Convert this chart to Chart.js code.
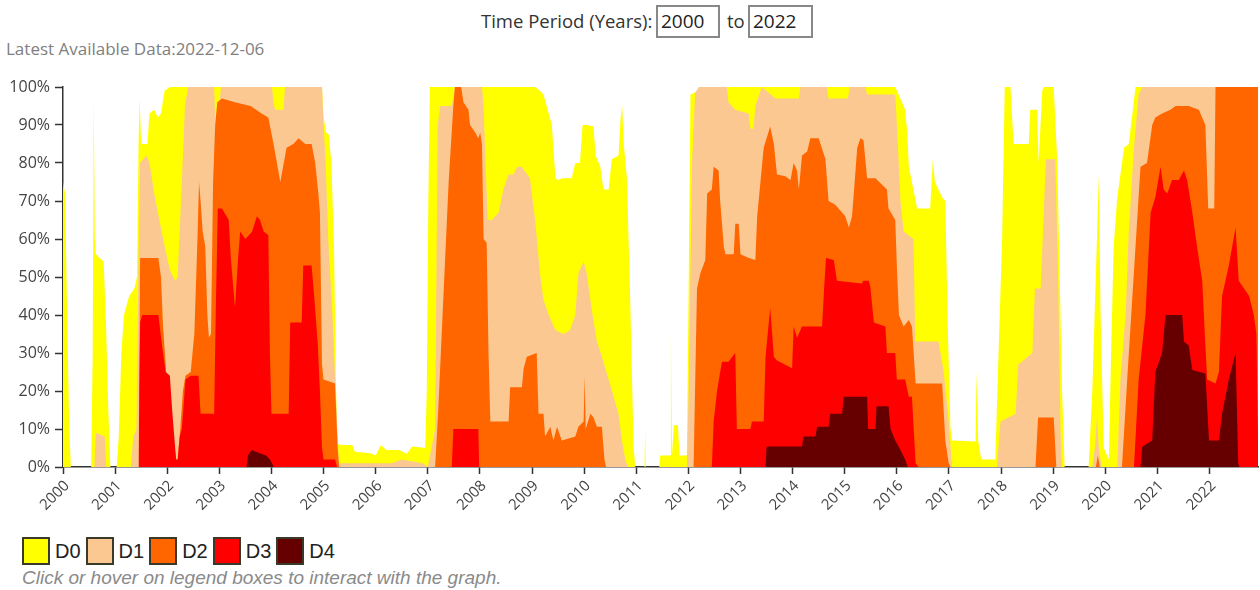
<!DOCTYPE html>
<html>
<head>
<meta charset="utf-8">
<script src="https://cdn.jsdelivr.net/npm/chart.js@4.4.1/dist/chart.umd.min.js"></script>
<style>
html,body{margin:0;padding:0;background:#fff;width:1260px;height:590px;overflow:hidden;font-family:"Open Sans",sans-serif;}
.h{position:absolute;top:5px;height:32px;line-height:32px;font-size:18.5px;color:#333;white-space:nowrap;}
.box{position:absolute;top:5px;box-sizing:border-box;height:33px;border:2px solid #888;font-size:19px;line-height:29px;padding-left:3px;color:#222;}
#latest{position:absolute;left:6px;top:37px;font-size:17px;line-height:23px;color:#808080;white-space:nowrap;}
#wrap{position:absolute;left:0;top:70px;width:1260px;height:450px;}
#legend{position:absolute;left:22px;top:537px;display:flex;align-items:center;font-family:"Liberation Sans",Arial,sans-serif;font-size:20px;color:#222;}
.sw{width:28px;height:28px;box-sizing:border-box;border:2px solid #3a3a2a;margin-right:5px;}
.lt{margin-right:5px;}
#hint{position:absolute;left:22px;top:567px;font-family:"Liberation Sans",Arial,sans-serif;font-style:italic;font-size:19px;color:#8a8a8a;white-space:nowrap;}
</style>
</head>
<body>
<div class="h" style="left:481px">Time Period (Years):</div>
<div class="box" style="left:656px;width:64px">2000</div>
<div class="h" style="left:727px">to</div>
<div class="box" style="left:748px;width:65px">2022</div>
<div id="latest">Latest Available Data:2022-12-06</div>
<div id="wrap"><canvas id="c" width="1260" height="450"></canvas></div>
<div id="legend"></div>
<div id="hint">Click or hover on legend boxes to interact with the graph.</div>
<script>
const yearTicks = [2000,2001,2002,2003,2004,2005,2006,2007,2008,2009,2010,2011,2012,2013,2014,2015,2016,2017,2018,2019,2020,2021,2022];
const pctTicks = [0,10,20,30,40,50,60,70,80,90,100];
const categories = ['D0','D1','D2','D3','D4'];
const colors = ['#FFFF00','#FCC891','#FF6600','#FF0000','#660000'];

const d0Years = [
2000.00,2000.04,2000.08,2000.12,2000.15,2000.54,2000.57,2000.59,2000.61,2000.63,
2000.78,2000.82,2000.87,2000.91,2001.03,2001.07,2001.12,2001.17,2001.27,2001.37,
2001.42,2001.45,2001.47,2001.50,2001.62,2001.66,2001.75,2001.82,2001.88,2001.95,
2002.05,2004.97,2005.00,2005.05,2005.10,2005.15,2005.20,2005.24,2005.27,2005.35,
2005.55,2005.60,2005.90,2006.00,2006.10,2006.20,2006.45,2006.60,2006.70,2006.95,
2006.98,2007.01,2007.04,2009.06,2009.15,2009.22,2009.32,2009.38,2009.45,2009.50,
2009.58,2009.76,2009.83,2009.92,2009.97,2010.06,2010.18,2010.22,2010.31,2010.37,
2010.47,2010.53,2010.66,2010.70,2010.73,2010.76,2010.82,2010.88,2010.95,2010.98,
2011.16,2011.17,2011.18,2011.44,2011.46,2011.65,2011.665,2011.685,2011.72,2011.80,
2011.83,2011.97,2012.00,2012.04,2012.20,2012.25,2015.97,2016.16,2016.20,2016.23,
2016.39,2016.64,2016.69,2016.73,2016.87,2016.93,2016.98,2017.03,2017.06,2017.51,
2017.53,2017.56,2017.62,2017.89,2017.94,2018.02,2018.07,2018.18,2018.24,2018.53,
2018.56,2018.69,2018.72,2018.79,2018.82,2019.01,2019.08,2019.11,2019.17,2019.22,
2019.68,2019.75,2019.84,2019.875,2019.91,2019.97,2020.07,2020.10,2020.16,2020.23,
2020.36,2020.45,2020.52,2020.58,2022.93];
const d0Values = [
75,72,40,10,0,0,30,97,60,56,
54,40,15,0,0,8,30,40,45,47,
50,85,97,85,85,93,94,92,93,99,
100,100,92,88,87.5,80,58,20,6,5.8,
5.8,4,3.6,3,5.8,4.5,4.5,3.5,5.4,5,
20,70,100,100,99,98,93,90,76,75.5,
76,76,80,80,90,90,89.6,82,79,73,
73,81,82,92,95,85,76,46,5,0,
0,10,0,0,3,3,35,3,11,11,
3,3,40,98,99,100,100,94,88,79,
68,68,81,75,71,70,35,10,7,6.7,
25,7,2,2,25,60,100,100,85,85,
94,94,80,99,100,100,80,60,20,0,
0,20,60,77,40,5,2,23,58,71,
84,85,93,100,100];

const d1Years = [
2000.60,2000.63,2000.80,2000.83,2001.30,2001.35,2001.41,2001.45,2001.48,2001.60,
2001.66,2001.75,2001.85,2001.95,2002.05,2002.15,2002.20,2002.28,2002.34,2002.40,
2002.90,2002.93,2002.97,2003.00,2003.03,2004.01,2004.04,2004.07,2004.23,2004.26,
2004.97,2005.00,2005.04,2005.09,2005.17,2005.23,2005.29,2005.32,2006.30,2006.50,
2006.90,2007.00,2007.14,2007.19,2007.24,2007.46,2007.52,2008.04,2008.07,2008.11,
2008.15,2008.23,2008.36,2008.45,2008.55,2008.645,2008.71,2008.80,2008.96,2009.06,
2009.16,2009.22,2009.32,2009.45,2009.605,2009.73,2009.83,2009.89,2009.99,2010.05,
2010.15,2010.245,2010.34,2010.47,2010.66,2010.725,2010.79,2010.84,2011.97,2012.005,
2012.07,2012.13,2012.20,2012.74,2012.77,2012.90,2013.16,2013.19,2013.25,2013.285,
2013.41,2013.67,2014.12,2014.15,2014.66,2014.69,2015.06,2015.10,2015.40,2015.43,
2015.97,2016.02,2016.07,2016.13,2016.32,2016.355,2016.80,2016.90,2016.995,2017.06,
2017.92,2017.99,2018.28,2018.33,2018.60,2018.65,2018.76,2018.86,2019.04,2019.095,
2019.14,2019.17,2019.75,2019.80,2019.84,2019.875,2019.93,2020.23,2020.29,2020.39,
2020.45,2020.55,2020.64,2020.71,2022.93];
const d1Values = [
0,9,8,0,0,8,10,55,80,82,
80,72,65,58,52,49,50,75,95,100,
100,88,85,95,100,100,96,94,94,100,
100,90,80,60,40,20,2,1,1,2,
1,0,10,90,95,95,100,100,95,80,
65,65,67,73,77,77,79,79,76,65,
50,44,40,36,35,36,40,51,54,51,
41,33,29,23,14,7,2,0,0,20,
80,98.5,100,100,96,94,93,89,89,95,
100,97,97,100,100,97,97,100,100,98,
98,85,70,62,60,33,33,25,12,0,
0,12,14,27,30,47,47,81,81,50,
10,0,0,5,13,5,0,0,23,40,
62,84,98,100,100];

const d2Years = [
2001.45,2001.48,2001.83,2001.88,2001.92,2001.98,2002.05,2002.12,2002.17,2002.20,
2002.25,2002.30,2002.35,2002.45,2002.52,2002.58,2002.61,2002.64,2002.68,2002.73,
2002.77,2002.80,2002.84,2002.88,2002.92,2002.96,2003.05,2003.30,2003.60,2003.81,
2003.94,2004.04,2004.17,2004.21,2004.29,2004.42,2004.52,2004.65,2004.77,2004.84,
2004.90,2004.93,2004.97,2005.00,2005.22,2005.27,2005.30,2007.14,2007.20,2007.30,
2007.40,2007.49,2007.52,2007.64,2007.685,2007.78,2007.81,2007.91,2007.97,2008.005,
2008.04,2008.07,2008.13,2008.165,2008.20,2008.55,2008.58,2008.805,2008.84,2008.90,
2009.09,2009.125,2009.22,2009.25,2009.35,2009.41,2009.48,2009.57,2009.83,2009.89,
2009.99,2010.01,2010.03,2010.12,2010.18,2010.245,2010.34,2010.39,2010.42,2012.10,
2012.165,2012.23,2012.325,2012.36,2012.45,2012.485,2012.58,2012.61,2012.68,2012.71,
2012.87,2012.90,2012.965,2013.00,2013.16,2013.285,2013.32,2013.445,2013.57,2013.64,
2013.70,2013.86,2013.96,2014.02,2014.085,2014.12,2014.18,2014.28,2014.34,2014.50,
2014.63,2014.69,2014.82,2015.01,2015.08,2015.14,2015.24,2015.30,2015.36,2015.43,
2015.59,2015.81,2015.84,2015.97,2016.00,2016.04,2016.13,2016.23,2016.29,2016.36,
2016.87,2016.93,2016.995,2017.03,2018.66,2018.71,2019.01,2019.06,2019.82,2019.855,
2019.895,2020.32,2020.42,2020.58,2020.675,2020.80,2020.90,2020.96,2021.09,2021.25,
2021.35,2021.60,2021.795,2021.92,2021.975,2022.09,2022.115,2022.93];
const d2Values = [
0,55,55,50,37,25,15,8,2,2,
10,20,24,25,35,60,75,70,62,58,
40,34,35,75,90,96,97,96,95,93,
92,85,75,78,84,85,86.5,85,85,80,
72,67,27,23,22,5,0,0,15,45,
75,95,100,100,96,94,90,88,86.5,88,
85,60,59,30,12,12,21,21,26,29,
30,14,14,8,10.6,7,10.6,7,8,10.6,
12,24,10,14,13,10.6,10.6,2,0,0,
47,51,54.5,72,73,79,78,70,58,56,
56,64,64,56,55,54.5,66,84,89.6,85,
77,76.5,75.5,80,78,73,82,83,86.5,86.5,
81,70,69,66,63,66,84,86.5,86,76,
76,73,68,65,53,40,37,38.7,37,22,
22,7,1,0,0,13,13,0,0,3,
0,0,23,58,79,80,90,92,93,94,
95,95,94,90,68,68,100,100];

const d3Years = [
2001.45,2001.48,2001.52,2001.83,2001.90,2001.97,2002.05,2002.10,2002.17,2002.20,
2002.24,2002.28,2002.35,2002.45,2002.60,2002.64,2002.90,2002.93,2002.97,2003.05,
2003.18,2003.22,2003.30,2003.36,2003.40,2003.50,2003.63,2003.72,2003.78,2003.85,
2003.94,2003.97,2004.00,2004.33,2004.36,2004.58,2004.61,2004.77,2004.82,2004.89,
2004.93,2004.97,2005.00,2005.22,2005.26,2007.46,2007.49,2007.97,2007.985,2012.45,
2012.485,2012.55,2012.61,2012.645,2012.77,2012.90,2012.93,2013.19,2013.22,2013.445,
2013.48,2013.57,2013.64,2013.70,2013.99,2014.02,2014.085,2014.18,2014.565,2014.60,
2014.64,2014.79,2014.85,2015.33,2015.36,2015.46,2015.49,2015.56,2015.78,2015.81,
2015.97,2016.00,2016.16,2016.23,2016.29,2016.36,2016.42,2020.55,2020.64,2020.77,
2020.87,2020.96,2021.06,2021.12,2021.19,2021.28,2021.41,2021.51,2021.57,2021.67,
2021.76,2021.86,2021.92,2021.955,2022.115,2022.18,2022.24,2022.37,2022.50,2022.56,
2022.76,2022.85,2022.90,2022.93];
const d3Values = [
0,38,40,40,32,25,24,14,2,2,
8,10,23,24,24,14,14,40,68,68,
65,55,42,55,62,60,62,66,65,62,
61,30,14,14,38,38,53,53,45,32,
20,5,2,2,0,0,10,10,0,0,
12,20,25,27.7,27.7,30,10,10,12,12,
29,42,29,28,26,37,34,37,37,46,
55,54.5,49,48.3,49,49,47.5,38,37,30,
30,23,23,18.5,18.5,1,0,0,23,40,
67,71,79,73,72,75.5,75.5,78,75.5,67,
58,49,32,23,22,25,45,53,63,49,
45,40,35,8];

const d4Years = [
2003.52,2003.55,2003.62,2003.70,2003.80,2003.90,2003.97,2004.05,2013.48,2013.50,
2014.18,2014.21,2014.44,2014.47,2014.69,2014.72,2014.95,2014.98,2015.43,2015.45,
2015.59,2015.61,2015.84,2015.88,2015.97,2016.07,2016.16,2016.21,2020.675,2020.71,
2020.90,2020.96,2021.09,2021.155,2021.475,2021.51,2021.60,2021.67,2021.92,2021.99,
2022.18,2022.24,2022.37,2022.50,2022.55,2022.575,2022.93];
const d4Values = [
0,3,4.5,4,3.5,3,2,0,0,5.4,
5.4,8,8,10.6,10.6,14,14,18.5,18.5,10,
10,16,16,10,7,4.5,2,0,0,5.4,
7,25,30,40,40,33,32,25.5,24.6,7,
7,14,23,30,1,0,0];

const seriesYears = [d0Years,d1Years,d2Years,d3Years,d4Years];
const seriesValues = [d0Values,d1Values,d2Values,d3Values,d4Values];

const datasets = categories.map((name,i)=>({
  label:name,
  data: seriesYears[i].map((x,k)=>({x:x,y:seriesValues[i][k]})),
  backgroundColor: colors[i],
  borderColor: 'rgba(0,0,0,0)',
  borderWidth: 0,
  fill: 'origin',
  pointRadius: 0,
  tension: 0,
  order: categories.length - i
}));

const legend = document.getElementById('legend');
categories.forEach((name,i)=>{
  const sw = document.createElement('div'); sw.className='sw'; sw.style.background=colors[i];
  const t = document.createElement('span'); t.className='lt'; t.textContent=name;
  legend.appendChild(sw); legend.appendChild(t);
});

new Chart(document.getElementById('c'), {
  type: 'line',
  data: { datasets },
  options: {
    responsive: false,
    animation: false,
    layout: { padding: { top: 17, right: 2, left: 0, bottom: 0 } },
    plugins: { legend: { display: false }, tooltip: { enabled: false } },
    scales: {
      x: {
        type: 'linear', min: 2000, max: 2022.93, z: 1,
        afterBuildTicks: s => { s.ticks = yearTicks.map(v => ({ value: v })); },
        afterFit: s => { s.height = 53; },
        ticks: { minRotation: 45, maxRotation: 45, autoSkip: false, color: '#444',
                 font: { family: 'Open Sans', size: 15 }, padding: 3, labelOffset: 4,
                 callback: v => String(v) },
        grid: { drawOnChartArea: false, drawTicks: true, tickLength: 7, tickColor: '#333', tickWidth: 1.5 },
        border: { display: true, color: '#333', width: 1.5 }
      },
      y: {
        min: 0, max: 100, z: 1,
        afterBuildTicks: s => { s.ticks = pctTicks.map(v => ({ value: v })); },
        afterFit: s => { s.width = 63; },
        ticks: { color: '#444', font: { family: 'Open Sans', size: 16 }, padding: 5,
                 callback: v => v + '%' },
        grid: { drawOnChartArea: false, drawTicks: true, tickLength: 8, tickColor: '#333', tickWidth: 1.5 },
        border: { display: true, color: '#333', width: 1.5 }
      }
    }
  }
});
</script>
</body>
</html>
